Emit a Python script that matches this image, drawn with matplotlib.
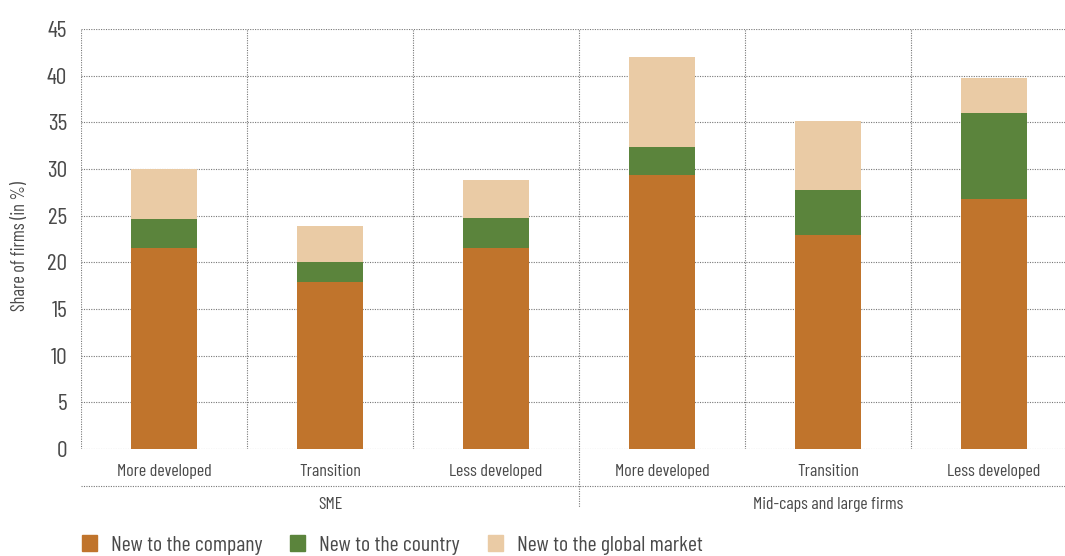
import matplotlib.pyplot as plt
import matplotlib.patches as mpatches
import numpy as np

# data
categories = ['More developed', 'Transition', 'Less developed',
              'More developed', 'Transition', 'Less developed']
groups = ['SME', 'Mid-caps and large firms']
new_company = [21.5, 17.9, 21.5, 29.4, 22.9, 26.8]
new_country = [3.1, 2.1, 3.2, 3.0, 4.9, 9.2]
new_global = [5.4, 3.9, 4.1, 9.6, 7.3, 3.7]
series_names = ['New to the company', 'New to the country', 'New to the global market']
colors = ['#C0742C', '#5B843C', '#EACBA5']

plt.rcParams['font.family'] = ['Barlow Condensed', 'DejaVu Sans']
txt = '#4a4a4a'
grid_kw = dict(color='#777777', linestyle=(0, (1, 1.2)), linewidth=0.8)

fig = plt.figure(figsize=(10.65, 5.56), dpi=100)
ax = fig.add_axes([81 / 1065, 107 / 556, 996 / 1065, 420 / 556])

x = np.arange(len(categories))
width = 0.4
b1 = np.array(new_company)
b2 = b1 + np.array(new_country)
ax.bar(x, new_company, width, color=colors[0], zorder=3)
ax.bar(x, new_country, width, bottom=b1, color=colors[1], zorder=3)
ax.bar(x, new_global, width, bottom=b2, color=colors[2], zorder=3)

ax.set_xlim(-0.5, len(categories) - 0.5)
ax.set_ylim(0, 45)
ax.set_yticks(np.arange(0, 46, 5))
ax.set_xticks(x)
ax.set_xticklabels(categories, fontsize=12.9, color=txt)
ax.set_xticks(np.arange(-0.5, len(categories) - 0.5, 1), minor=True)
ax.tick_params(axis='both', which='both', length=0)
ax.tick_params(axis='x', pad=11)
ax.tick_params(axis='y', labelsize=17, labelcolor=txt, pad=10)
ax.grid(axis='y', which='major', **grid_kw, zorder=0)
ax.grid(axis='x', which='minor', **grid_kw, zorder=0)
ax.grid(axis='x', which='major', visible=False)
for s in ax.spines.values():
    s.set_visible(False)

# lines under the axis separating the groups
ax.plot([0, 1], [-0.0874, -0.0874], transform=ax.transAxes, clip_on=False, **grid_kw)
ax.plot([0.5, 0.5], [0, -0.137], transform=ax.transAxes, clip_on=False, **grid_kw)
ax.text(1, -0.133, groups[0], transform=ax.get_xaxis_transform(), ha='center', va='center',
        fontsize=12.8, color=txt)
ax.text(4, -0.133, groups[1], transform=ax.get_xaxis_transform(), ha='center', va='center',
        fontsize=12.8, color=txt)

fig.text(20 / 1065, 1 - 246 / 556, 'Share of firms (in %)', rotation=90, ha='center', va='center',
         fontsize=13.2, color=txt)

handles = [mpatches.Patch(color=c, label=n) for c, n in zip(colors, series_names)]
fig.legend(handles=handles, loc='center left', bbox_to_anchor=(82 / 1065, 11 / 556), ncol=3,
           frameon=False, fontsize=15.7, labelcolor=txt, handlelength=0.69, handleheight=0.69,
           handletextpad=0.64, columnspacing=1.28, borderpad=0, borderaxespad=0)

plt.savefig('out.png', dpi=100)
